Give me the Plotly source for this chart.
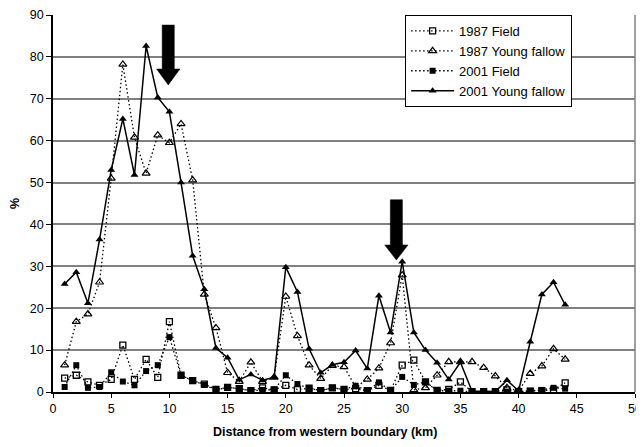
import plotly.graph_objects as go

# ---------------- data ----------------
distance_km = list(range(1, 45))

field_1987 = [3.3, 4.0, 2.4, 1.6, 3.0, 11.2, 3.0, 7.8, 3.5, 16.8,
              4.0, 2.7, 1.9, 0.6, 1.1, 0.8, 0.3, 1.0, 0.5, 1.6,
              0.6, 0.9, 0.3, 1.0, 0.6, 0.8, 0.3, 1.6, 0.4, 6.4,
              7.6, 2.4, 0.4, 0.6, 2.4, 0.1, 0.1, 0.1, 0.5, 0.1,
              0.2, 0.3, 0.5, 2.2]

young_fallow_1987 = [6.4, 16.8, 18.6, 26.2, 51.0, 78.2, 60.8, 52.2, 61.3, 59.5,
                     64.0, 50.6, 23.3, 15.3, 4.6, 2.5, 7.1, 2.5, 3.5, 22.8,
                     13.4, 6.4, 3.2, 6.3, 6.0, 1.2, 3.0, 5.7, 11.7, 27.9,
                     0.5, 1.0, 4.0, 7.2, 7.2, 7.2, 5.8, 3.8, 1.0, 0.3,
                     4.4, 6.2, 10.3, 7.8]

field_2001 = [1.2, 6.4, 1.0, 1.2, 4.7, 2.5, 1.6, 5.0, 6.4, 13.1,
              4.0, 2.7, 1.7, 0.5, 1.1, 0.8, 0.3, 0.5, 0.6, 4.0,
              1.9, 0.9, 0.3, 1.0, 0.6, 1.5, 0.3, 2.3, 0.3, 3.6,
              1.7, 2.4, 0.3, 0.3, 0.3, 0.0, 0.0, 0.0, 0.1, 0.0,
              0.3, 0.5, 1.0, 0.8]

young_fallow_2001 = [25.8, 28.6, 21.2, 36.4, 53.0, 65.2, 51.8, 82.6, 70.3, 66.9,
                     50.0, 32.5, 24.5, 10.5, 8.2, 2.9, 4.2, 2.8, 3.5, 29.8,
                     23.9, 10.3, 4.6, 6.5, 7.1, 9.9, 5.6, 23.0, 14.2, 31.1,
                     14.2, 10.0, 7.0, 3.0, 7.1, 0.2, 0.2, 0.1, 2.8, 0.3,
                     12.0, 23.3, 26.2, 20.8]

series_names = ["1987 Field", "1987 Young fallow", "2001 Field", "2001 Young fallow"]

x_ticks = list(range(0, 51, 5))
y_ticks = list(range(0, 91, 10))

x_title = "Distance from western boundary (km)"
y_title = "%"

# arrows (center x, top, head base, tip) in data units
arrow_centers = [9.9, 29.5]
arrow_tops = [87.6, 45.9]
arrow_head_bases = [77.1, 35.1]
arrow_tips = [73.3, 31.5]

FONT = "Liberation Sans, Arial, sans-serif"
DOT = "1.5px,2.5px"

fig = go.Figure()

fig.add_trace(go.Scatter(
    x=distance_km, y=field_1987, name=series_names[0], mode="lines+markers",
    line=dict(color="black", width=1.3, dash=DOT),
    marker=dict(symbol="square-open", size=6, color="black", line=dict(width=1.3))))
fig.add_trace(go.Scatter(
    x=distance_km, y=young_fallow_1987, name=series_names[1], mode="lines+markers",
    line=dict(color="black", width=1.3, dash=DOT),
    marker=dict(symbol="triangle-up-open", size=7, color="black", line=dict(width=1.2))))
fig.add_trace(go.Scatter(
    x=distance_km, y=field_2001, name=series_names[2], mode="lines+markers",
    line=dict(color="black", width=1.3, dash=DOT),
    marker=dict(symbol="square", size=6, color="black")))
fig.add_trace(go.Scatter(
    x=distance_km, y=young_fallow_2001, name=series_names[3], mode="lines+markers",
    line=dict(color="black", width=1.5),
    marker=dict(symbol="triangle-up", size=7, color="black")))

shapes = []
for cx, top, hb, tip in zip(arrow_centers, arrow_tops, arrow_head_bases, arrow_tips):
    sw = 0.52
    hw = 1.0
    path = (f"M {cx - sw} {top} L {cx + sw} {top} L {cx + sw} {hb} L {cx + hw} {hb} "
            f"L {cx} {tip} L {cx - hw} {hb} L {cx - sw} {hb} Z")
    shapes.append(dict(type="path", path=path, xref="x", yref="y",
                       fillcolor="black", line=dict(color="black", width=0.5), layer="above"))
# right border of plot area
shapes.append(dict(type="line", xref="paper", yref="paper", x0=1, x1=1, y0=0, y1=1,
                   line=dict(color="#808080", width=1.5)))

# page body adds an 8px margin, so the figure is sized to fit the 644x447 window
fig.update_layout(
    width=636, height=439,
    margin=dict(l=45, r=9, t=7, b=55, autoexpand=False),
    paper_bgcolor="white", plot_bgcolor="white",
    font=dict(family=FONT, size=12, color="black"),
    showlegend=True,
    legend=dict(x=0.605, y=1, xanchor="left", yanchor="top",
                bordercolor="black", borderwidth=1, bgcolor="white",
                font=dict(family=FONT, size=13), itemwidth=43,
                tracegroupgap=0),
    shapes=shapes,
    annotations=[dict(text=f"<b>{x_title}</b>", xref="paper", yref="paper",
                      x=0.467, y=-0.106, xanchor="center", yanchor="middle",
                      showarrow=False, font=dict(family=FONT, size=12.5))],
)

fig.update_xaxes(range=[0, 50], tickvals=x_ticks, ticktext=[str(v) for v in x_ticks],
                 automargin=False,
                 showgrid=False, zeroline=False, showline=True, linecolor="black", linewidth=1.5,
                 ticks="outside", ticklen=4, tickcolor="black",
                 tickfont=dict(family=FONT, size=12.5))
fig.update_yaxes(range=[0, 90], tickvals=y_ticks, ticktext=[str(v) for v in y_ticks],
                 automargin=False,
                 showgrid=True, gridcolor="#808080", gridwidth=1.5, zeroline=False,
                 showline=True, linecolor="black", linewidth=1.5,
                 ticks="outside", ticklen=5, tickcolor="black",
                 tickfont=dict(family=FONT, size=12.5),
                 title=dict(text=f"<b>{y_title}</b>", font=dict(family=FONT, size=12.5), standoff=14))

fig.write_html("out.html")
